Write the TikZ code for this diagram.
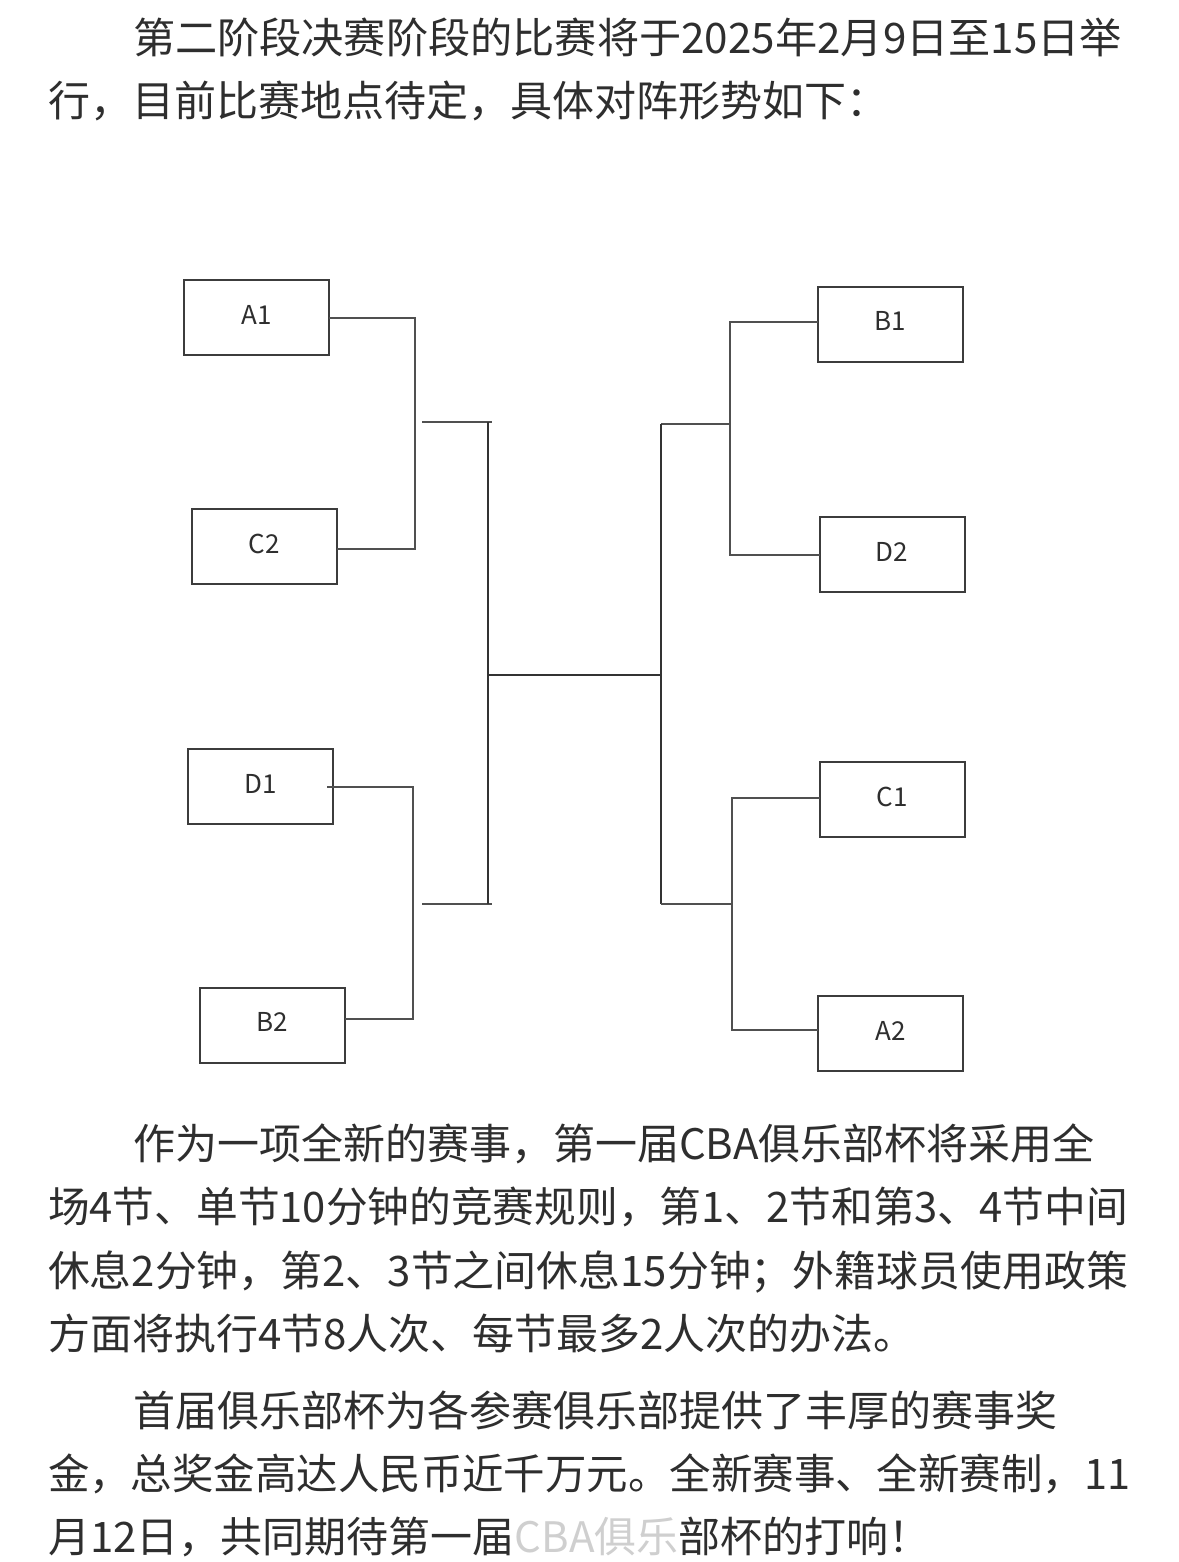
\documentclass[tikz,border=0pt]{standalone}
\usepackage{fontspec}
\usepackage{graphicx}
\newfontfamily\cjk{Noto Sans CJK SC}
\definecolor{txt}{HTML}{2E2E2E}
\definecolor{ln}{HTML}{505050}
\definecolor{bx}{HTML}{3C3C3C}
\definecolor{wm}{HTML}{CFCFCF}
\begin{document}
\begin{tikzpicture}[x=1pt,y=-1pt,
  team/.style={draw=bx, line width=2pt, minimum width=145pt, minimum height=75pt,
    inner sep=0pt, outer sep=0pt, font=\cjk\fontsize{26}{26}\selectfont, text=txt,
    text height=13pt, text depth=0pt},
  wire/.style={draw=ln, line width=2pt},
  core/.style={draw=black!80, line width=1.8pt},
  para/.style={anchor=base west, inner sep=0pt, outer sep=0pt,
    font=\cjk\fontsize{42}{42}\selectfont, text=txt}
]
\useasboundingbox[fill=white] (0,0) rectangle (1178,1562);

% paragraph 1
\node[para] (p1a) at (133,54) {\resizebox{989pt}{\height}{第二阶段决赛阶段的比赛将于2025年2月9日至15日举}};
\node[para] (p1b) at (48,117) {行，目前比赛地点待定，具体对阵形势如下：};

% teams
\node[team] (A1) at (256.5,317.5) {A1};
\node[team] (C2) at (264.5,546.5) {C2};
\node[team] (D1) at (260.5,786.5) {D1};
\node[team] (B2) at (272,1025) {B2};
\node[team] (B1) at (890.5,324) {B1};
\node[team] (D2) at (892,554.5) {D2};
\node[team] (C1) at (892,799.5) {C1};
\node[team] (A2) at (890.5,1033.5) {A2};

% junction coordinates
\coordinate (jA) at (415,430);
\coordinate (jD) at (413,900);
\coordinate (jB) at (730,440);
\coordinate (jC) at (732,900);
\coordinate (lt1) at (422,422);
\coordinate (lt2) at (492,422);
\coordinate (lv1) at (488,422);
\coordinate (lv2) at (488,904);
\coordinate (lb1) at (422,904);
\coordinate (lb2) at (492,904);
\coordinate (mL) at (488,675);
\coordinate (mR) at (661,675);
\coordinate (rt1) at (730,424);
\coordinate (rt2) at (661,424);
\coordinate (rb1) at (661,904);
\coordinate (rb2) at (732,904);

% left first round
\draw[wire] (A1.east) -| (jA) |- ([yshift=-2.5pt]C2.east);
\draw[wire] ([xshift=-6pt]D1.east) -| (jD) |- ([yshift=6pt]B2.east);
% right first round
\draw[wire] ([yshift=2pt]B1.west) -| (jB) |- (D2.west);
\draw[wire] ([yshift=2pt]C1.west) -| (jC) |- ([yshift=3.5pt]A2.west);

% left semifinal bracket
\draw[wire] (lt1) -- (lt2);
\draw[wire] (lb1) -- (lb2);
\draw[core] (lv1) -- (lv2);
% right semifinal bracket
\draw[wire] (rt1) -- (rt2);
\draw[core] (rt2) -- (rb1);
\draw[wire] (rb1) -- (rb2);
% final
\draw[core] (mL) -- (mR);

% paragraph 2
\node[para] (p2a) at (133,1159) {作为一项全新的赛事，第一届CBA俱乐部杯将采用全};
\node[para] (p2b) at (48,1222) {\resizebox{1080pt}{\height}{场4节、单节10分钟的竞赛规则，第1、2节和第3、4节中间}};
\node[para] (p2c) at (48,1286) {\resizebox{1080pt}{\height}{休息2分钟，第2、3节之间休息15分钟；外籍球员使用政策}};
\node[para] (p2d) at (48,1349) {方面将执行4节8人次、每节最多2人次的办法。};

% paragraph 3
\node[para] (p3a) at (133,1426) {首届俱乐部杯为各参赛俱乐部提供了丰厚的赛事奖};
\node[para] (p3b) at (48,1489) {\resizebox{1082pt}{\height}{金，总奖金高达人民币近千万元。全新赛事、全新赛制，11}};
\node[para] (p3c) at (48,1552) {月12日，共同期待第一届{\color{wm}CBA俱乐}部杯的打响！};
\end{tikzpicture}
\end{document}
